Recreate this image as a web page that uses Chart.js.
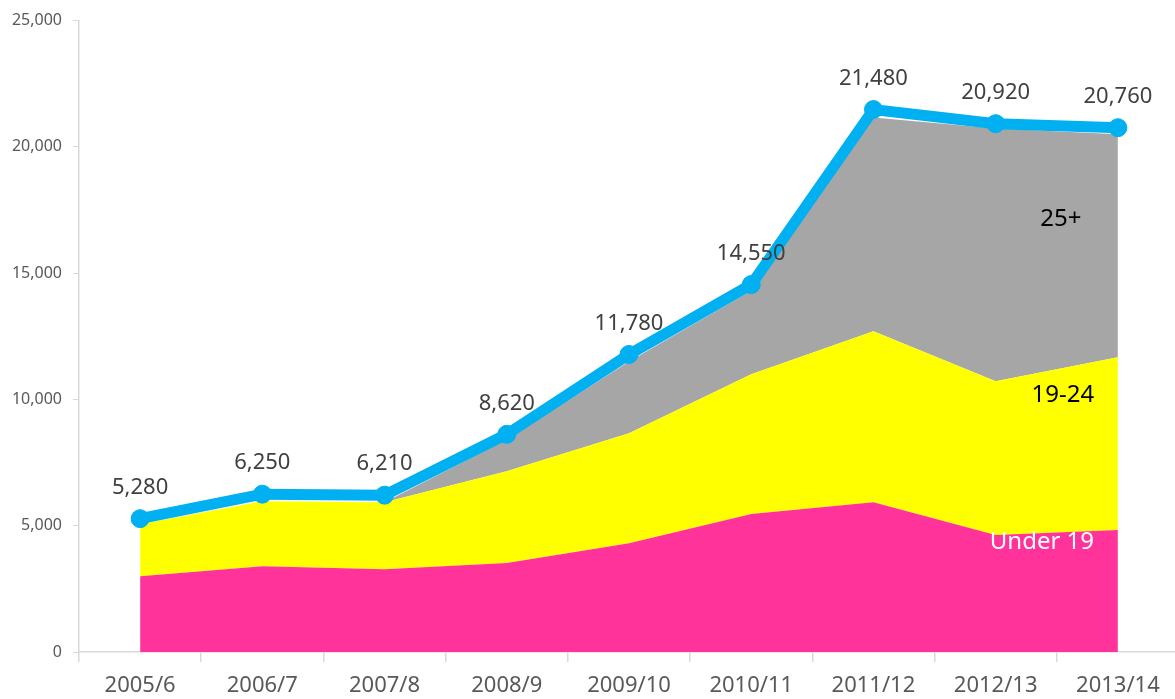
<!DOCTYPE html>
<html>
<head>
<meta charset="utf-8">
<script src="https://cdn.jsdelivr.net/npm/chart.js@4.4.1/dist/chart.umd.min.js"></script>
<style>
  html, body { margin: 0; padding: 0; background: #fff; overflow: hidden; }
  #wrap { width: 1189px; height: 699px; }
</style>
</head>
<body>
<div id="wrap"><canvas id="chart"></canvas></div>
<script>
const years = ['2005/6', '2006/7', '2007/8', '2008/9', '2009/10', '2010/11', '2011/12', '2012/13', '2013/14'];

// age group values (stacked areas)
const under19 = [3000, 3400, 3280, 3520, 4310, 5460, 5930, 4630, 4830];
const age19to24 = [2060, 2570, 2650, 3640, 4350, 5540, 6770, 6090, 6840];
const age25plus = [0, 0, 0, 1240, 2840, 3300, 8460, 10010, 8830];

// total starts
const totals = [5280, 6250, 6210, 8620, 11780, 14550, 21480, 20920, 20760];

const yTicks = [0, 5000, 10000, 15000, 20000, 25000];

// series names written inside the areas, with the value they sit at
const areaLabels = [
  { text: '25+', value: 17150, dx: -57, color: '#000000' },
  { text: '19-24', value: 10150, dx: -55, color: '#000000' },
  { text: 'Under 19', value: 4350, dx: -76, color: '#FFFFFF' }
];

const fmt = v => v.toLocaleString('en-GB');

const labelPlugin = {
  id: 'labels',
  afterDatasetsDraw(chart) {
    const ctx = chart.ctx;
    const meta = chart.getDatasetMeta(0);
    ctx.save();
    ctx.font = '22px "Noto Sans"';
    ctx.fillStyle = '#404040';
    ctx.textAlign = 'center';
    ctx.textBaseline = 'middle';
    meta.data.forEach((pt, i) => {
      ctx.fillText(fmt(totals[i]), pt.x, pt.y - 31);
    });

    // names of the age groups
    const x = chart.scales.x;
    const y = chart.scales.y;
    const lastX = x.getPixelForValue(years.length - 1);
    ctx.font = '24px "Noto Sans"';
    areaLabels.forEach(l => {
      ctx.fillStyle = l.color;
      ctx.fillText(l.text, lastX + l.dx, y.getPixelForValue(l.value));
    });
    ctx.restore();
  }
};

new Chart(document.getElementById('chart'), {
  type: 'line',
  data: {
    labels: years,
    datasets: [
      {
        label: 'Total',
        data: totals,
        stack: 'total',
        borderColor: '#00B0F0',
        backgroundColor: '#00B0F0',
        borderWidth: 11,
        pointRadius: 9,
        pointBorderWidth: 1,
        pointBackgroundColor: '#00B0F0',
        pointBorderColor: '#00B0F0',
        fill: false,
        tension: 0
      },
      {
        label: 'Under 19',
        data: under19,
        stack: 'ages',
        backgroundColor: '#FF3399',
        borderWidth: 0,
        pointRadius: 0,
        fill: 'origin',
        tension: 0
      },
      {
        label: '19-24',
        data: age19to24,
        stack: 'ages',
        backgroundColor: '#FFFF00',
        borderWidth: 0,
        pointRadius: 0,
        fill: '-1',
        tension: 0
      },
      {
        label: '25+',
        data: age25plus,
        stack: 'ages',
        backgroundColor: '#A6A6A6',
        borderWidth: 0,
        pointRadius: 0,
        fill: '-1',
        tension: 0
      }
    ]
  },
  options: {
    responsive: true,
    maintainAspectRatio: false,
    animation: false,
    layout: { padding: { top: 20, left: 0, right: 0, bottom: 0 } },
    plugins: {
      legend: { display: false },
      tooltip: { enabled: false }
    },
    scales: {
      x: {
        offset: true,
        grid: {
          offset: true,
          drawOnChartArea: false,
          drawTicks: true,
          tickLength: 10,
          color: '#D9D9D9',
          lineWidth: 1.5
        },
        border: { color: '#D9D9D9', width: 1.5 },
        ticks: {
          color: '#595959',
          font: { family: 'Noto Sans', size: 22 },
          padding: 11,
          maxRotation: 0
        },
        afterFit(scale) { scale.height = 47; }
      },
      y: {
        stacked: true,
        min: 0,
        max: 25000,
        afterBuildTicks(scale) { scale.ticks = yTicks.map(v => ({ value: v })); },
        grid: {
          drawOnChartArea: false,
          drawTicks: true,
          tickLength: 6,
          color: '#D9D9D9',
          lineWidth: 1
        },
        border: { color: '#D9D9D9', width: 1.5 },
        ticks: {
          color: '#595959',
          font: { family: 'Noto Sans', size: 16 },
          padding: 11,
          callback: v => fmt(v)
        },
        afterFit(scale) { scale.width = 79; }
      }
    }
  },
  plugins: [labelPlugin]
});
</script>
</body>
</html>
